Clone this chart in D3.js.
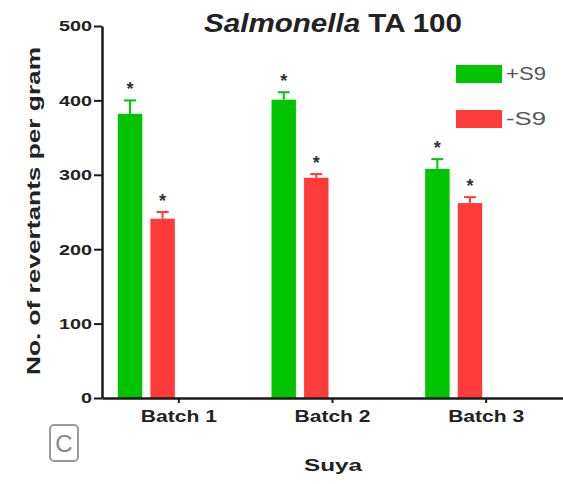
<!DOCTYPE html>
<html>
<head>
<meta charset="utf-8">
<script src="https://cdn.jsdelivr.net/npm/d3@7"></script>
<style>
  html, body { margin: 0; padding: 0; background: #fff; }
  svg { display: block; font-family: "Liberation Sans", Arial, sans-serif; }
</style>
</head>
<body>
<svg id="chart" width="563" height="484"></svg>
<script>
// Revertant counts per gram of suya, Salmonella TA 100
const batches = ["Batch 1", "Batch 2", "Batch 3"];
const seriesNames = ["+S9", "-S9"];
const plusS9 = [382, 401, 308];
const plusS9Err = [18, 10, 13];
const minusS9 = [241, 296, 262];
const minusS9Err = [9, 5, 8];
const yTicks = [0, 100, 200, 300, 400, 500];
const colors = ["#00c400", "#ff3a3a"];

const svg = d3.select("#chart");
const font = '"Liberation Sans", Arial, sans-serif';

const x0 = d3.scaleBand().domain(batches).range([102, 563]).padding(0);
const xs = d3.scaleBand().domain(seriesNames).range([-61, -4]).paddingInner(0.25);
const y = d3.scaleLinear().domain([0, 500]).range([398, 26]);

const values = [plusS9, minusS9];
const errors = [plusS9Err, minusS9Err];
const rows = [];
seriesNames.forEach((s, si) => {
  batches.forEach((b, bi) => {
    rows.push({ series: s, si, batch: b, value: values[si][bi], err: errors[si][bi] });
  });
});
const cx = d => x0(d.batch) + x0.bandwidth() / 2;

// bars
svg.append("g").selectAll("rect").data(rows).join("rect")
  .attr("x", d => cx(d) + xs(d.series))
  .attr("y", d => y(d.value))
  .attr("width", xs.bandwidth())
  .attr("height", d => y(0) - y(d.value))
  .attr("fill", d => colors[d.si]);

// upper error bars
const eb = svg.append("g").selectAll("g").data(rows).join("g")
  .attr("stroke", d => colors[d.si])
  .attr("stroke-width", 2);
eb.append("line")
  .attr("x1", d => cx(d) + xs(d.series) + xs.bandwidth() / 2)
  .attr("x2", d => cx(d) + xs(d.series) + xs.bandwidth() / 2)
  .attr("y1", d => y(d.value))
  .attr("y2", d => y(d.value + d.err));
eb.append("line")
  .attr("x1", d => cx(d) + xs(d.series) + xs.bandwidth() / 2 - 6)
  .attr("x2", d => cx(d) + xs(d.series) + xs.bandwidth() / 2 + 6)
  .attr("y1", d => y(d.value + d.err))
  .attr("y2", d => y(d.value + d.err));

// significance asterisks
svg.append("g").selectAll("text").data(rows).join("text")
  .attr("x", d => cx(d) + xs(d.series) + xs.bandwidth() / 2)
  .attr("y", d => y(d.value + d.err) - 5)
  .attr("text-anchor", "middle")
  .attr("font-size", 18)
  .attr("font-weight", "bold")
  .attr("fill", "#333")
  .text("*");

// y axis
const yAxis = svg.append("g")
  .attr("transform", "translate(102,0)")
  .call(d3.axisLeft(y).tickValues(yTicks).tickSize(8).tickSizeOuter(0).tickPadding(2));
yAxis.select(".domain").attr("stroke", "#1a1a1a").attr("stroke-width", 2.5);
yAxis.selectAll(".tick line").attr("stroke", "#1a1a1a").attr("stroke-width", 2);
yAxis.selectAll(".tick text")
  .attr("font-family", font)
  .attr("font-size", 15)
  .attr("font-weight", "bold")
  .attr("fill", "#222")
  .attr("textLength", d => String(d).length * 11)
  .attr("lengthAdjust", "spacingAndGlyphs");

// x axis
const xAxis = svg.append("g")
  .attr("transform", "translate(0,398)")
  .call(d3.axisBottom(x0).tickSize(5).tickSizeOuter(0).tickPadding(8));
xAxis.select(".domain").attr("stroke", "#1a1a1a").attr("stroke-width", 2.5);
xAxis.selectAll(".tick line").attr("stroke", "#1a1a1a").attr("stroke-width", 2);
xAxis.selectAll(".tick text")
  .attr("font-family", font)
  .attr("font-size", 16)
  .attr("font-weight", "bold")
  .attr("fill", "#222")
  .attr("textLength", 76)
  .attr("lengthAdjust", "spacingAndGlyphs");

// title
const title = svg.append("text")
  .attr("x", 333).attr("y", 32)
  .attr("text-anchor", "middle")
  .attr("font-size", 25)
  .attr("font-weight", "bold")
  .attr("fill", "#222")
  .attr("textLength", 258)
  .attr("lengthAdjust", "spacingAndGlyphs");
title.append("tspan").attr("font-style", "italic").text("Salmonella");
title.append("tspan").text(" TA 100");

// axis titles
svg.append("text")
  .attr("transform", "translate(40,211) rotate(-90)")
  .attr("text-anchor", "middle")
  .attr("font-size", 18)
  .attr("font-weight", "bold")
  .attr("fill", "#222")
  .attr("textLength", 328)
  .attr("lengthAdjust", "spacingAndGlyphs")
  .text("No. of revertants per gram");

svg.append("text")
  .attr("x", 333).attr("y", 471)
  .attr("text-anchor", "middle")
  .attr("font-size", 17)
  .attr("font-weight", "bold")
  .attr("fill", "#222")
  .attr("textLength", 58)
  .attr("lengthAdjust", "spacingAndGlyphs")
  .text("Suya");

// legend
const legend = svg.append("g").selectAll("g").data(seriesNames).join("g")
  .attr("transform", (d, i) => `translate(456,${65 + i * 45})`);
legend.append("rect")
  .attr("width", 46).attr("height", 18)
  .attr("fill", (d, i) => colors[i]);
legend.append("text")
  .attr("x", 50).attr("y", 15)
  .attr("font-size", 18)
  .attr("fill", "#555")
  .attr("textLength", 40)
  .attr("lengthAdjust", "spacingAndGlyphs")
  .text(d => d);

// panel letter
svg.append("rect")
  .attr("x", 50).attr("y", 425).attr("width", 28).attr("height", 36)
  .attr("rx", 4)
  .attr("fill", "none").attr("stroke", "#9a9a9a").attr("stroke-width", 2);
svg.append("text")
  .attr("x", 64).attr("y", 452)
  .attr("text-anchor", "middle")
  .attr("font-size", 24)
  .attr("fill", "#888")
  .text("C");
</script>
</body>
</html>
